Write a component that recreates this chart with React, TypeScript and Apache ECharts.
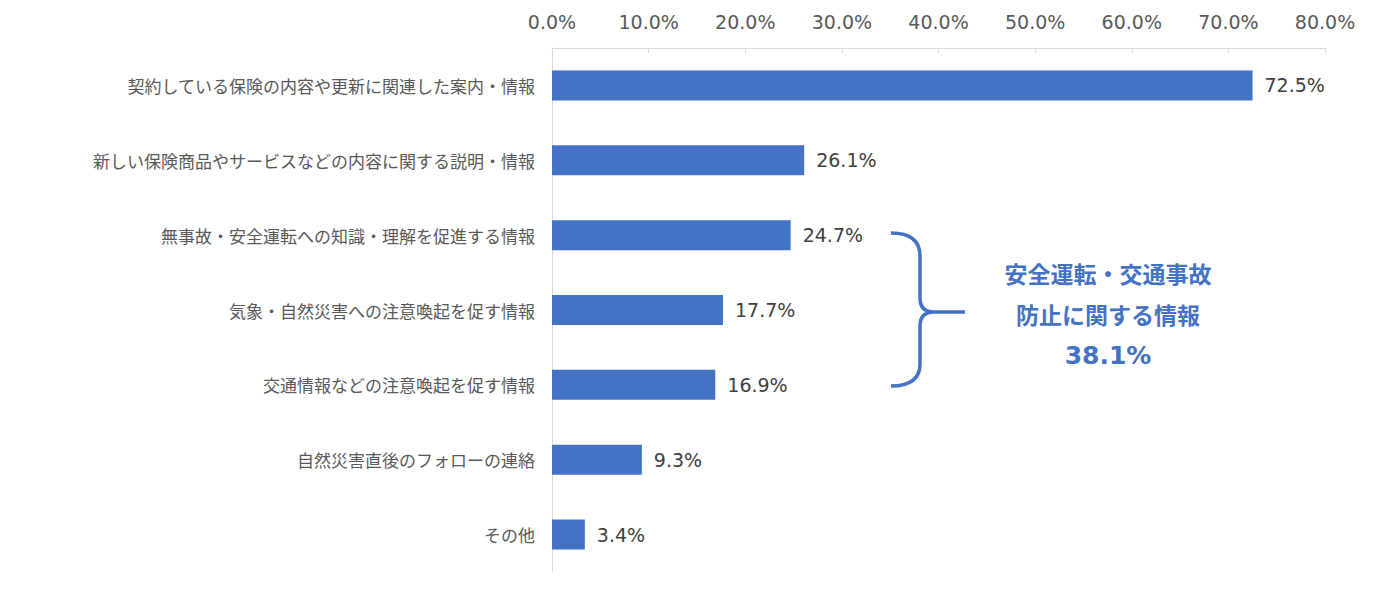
import React, { useEffect, useRef } from "react";
import * as echarts from "echarts";

const categories = [
  "契約している保険の内容や更新に関連した案内・情報",
  "新しい保険商品やサービスなどの内容に関する説明・情報",
  "無事故・安全運転への知識・理解を促進する情報",
  "気象・自然災害への注意喚起を促す情報",
  "交通情報などの注意喚起を促す情報",
  "自然災害直後のフォローの連絡",
  "その他",
];
const values = [72.5, 26.1, 24.7, 17.7, 16.9, 9.3, 3.4];
const annotationLines = ["安全運転・交通事故", "防止に関する情報", "38.1%"];

const BRACE =
  "M 891 233 Q 920 233 920 256 L 920 298 Q 920 312 934 312 L 965 312 M 934 312 Q 920 312 920 326 L 920 364 Q 920 386 891 386";

let registered = false;

export default function App() {
  const ref = useRef<HTMLDivElement>(null);
  useEffect(() => {
    document.body.style.margin = "0";
    if (!registered) {
      echarts.graphic.registerShape("brace", echarts.graphic.extendPath(BRACE, {}) as any);
      registered = true;
    }
    const chart = echarts.init(ref.current!, null, { renderer: "svg" });
    const cjk = "'Noto Sans CJK JP', 'Noto Sans', sans-serif";
    const num = "'DejaVu Sans', Verdana, sans-serif";
    chart.setOption({
      animation: false,
      textStyle: { fontFamily: cjk },
      grid: { left: 552, right: 60, top: 48, bottom: 28, containLabel: false },
      xAxis: {
        type: "value",
        position: "top",
        min: 0,
        max: 80,
        interval: 10,
        axisLine: { show: true, lineStyle: { color: "#d9d9d9", width: 1 } },
        axisTick: { show: true, inside: true, length: 5, lineStyle: { color: "#d9d9d9" } },
        splitLine: { show: false },
        axisLabel: {
          formatter: (v: number) => v.toFixed(1) + "%",
          color: "#595959",
          fontSize: 19,
          margin: 17,
          fontFamily: num,
        },
      },
      yAxis: {
        type: "category",
        inverse: true,
        data: categories,
        axisLine: { show: true, lineStyle: { color: "#d9d9d9", width: 1 } },
        axisTick: { show: false },
        axisLabel: { color: "#595959", fontSize: 17, margin: 17, fontFamily: cjk },
      },
      series: [
        {
          type: "bar",
          data: values,
          barWidth: 30,
          itemStyle: { color: "#4472C4" },
          label: {
            show: true,
            position: "right",
            distance: 12,
            formatter: (p: any) => p.value.toFixed(1) + "%",
            color: "#404040",
            fontSize: 19,
            fontFamily: num,
          },
        },
      ],
      graphic: [
        {
          type: "brace",
          x: 0,
          y: 0,
          style: { fill: "none", stroke: "#4472C4", lineWidth: 3.5 },
        },
        ...annotationLines.map((t, i) => ({
          type: "text",
          x: 1108,
          y: 273 + i * 41,
          style: {
            text: t,
            fill: "#4472C4",
            font: i === 2 ? `bold 25px ${num}` : `bold 23px ${cjk}`,
            textAlign: "center",
            textVerticalAlign: "middle",
          },
        })),
      ],
    });
    return () => chart.dispose();
  }, []);
  return <div ref={ref} style={{ width: 1385, height: 600 }} />;
}
